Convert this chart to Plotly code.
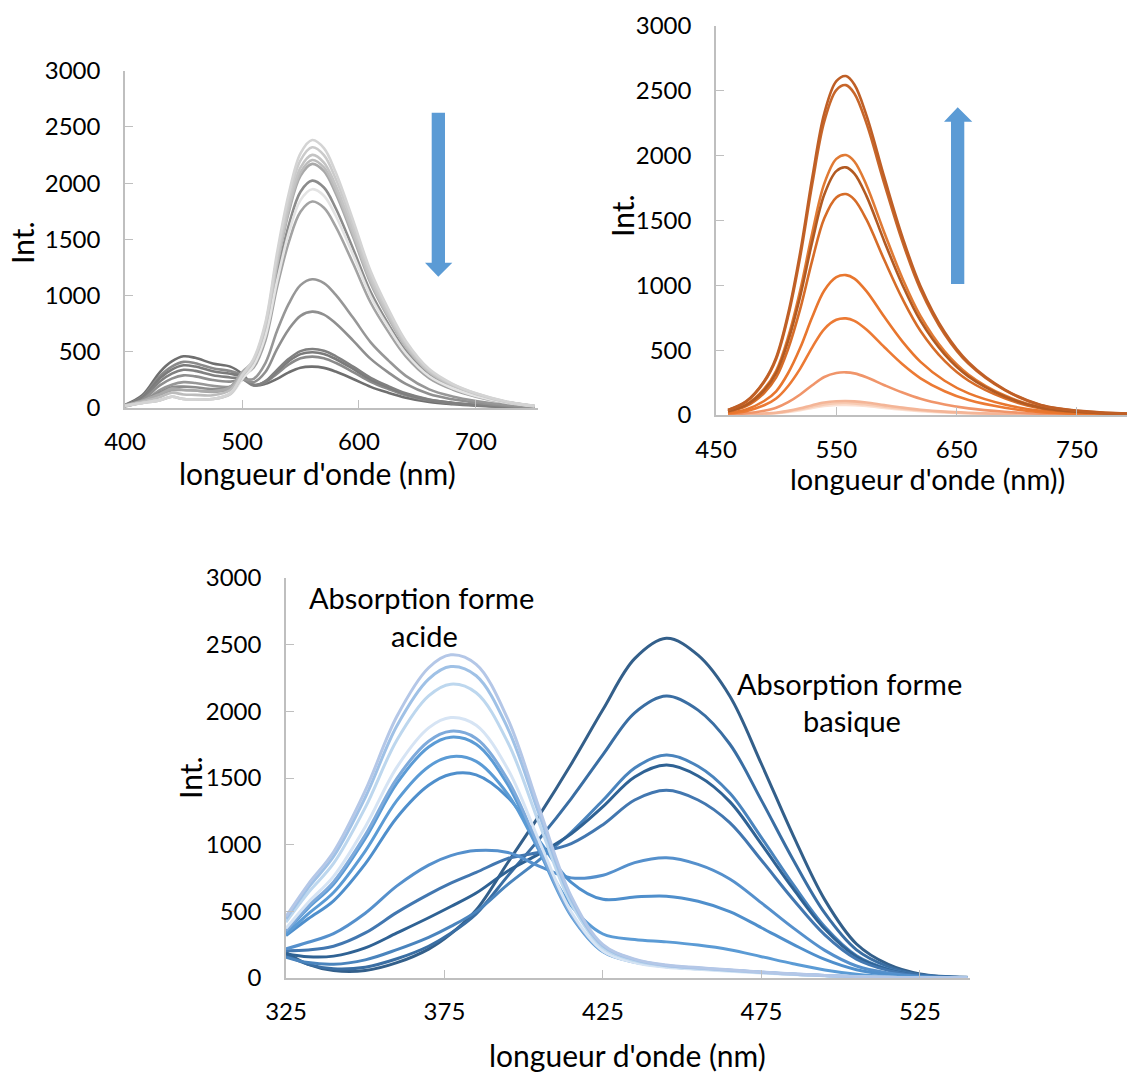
import plotly.graph_objects as go

# ---------------- DATA ----------------
# Panel 1 (top-left, grey emission spectra)
wl1 = [400, 415, 430, 440, 450, 460, 475, 490, 500, 510, 520, 530, 540, 550, 560, 570, 580, 595, 610, 625, 640, 660, 680, 700, 725, 750]
g01 = [20, 45, 70, 100, 80, 78, 80, 130, 290, 440, 760, 1383, 1907, 2265, 2384, 2312, 2098, 1669, 1216, 882, 596, 346, 215, 131, 60, 19]
g02 = [20, 45, 70, 100, 80, 78, 80, 128, 285, 430, 740, 1345, 1855, 2203, 2319, 2249, 2041, 1623, 1183, 858, 580, 336, 209, 128, 58, 19]
g03 = [20, 45, 70, 100, 80, 78, 80, 126, 280, 420, 720, 1306, 1801, 2138, 2251, 2183, 1981, 1576, 1148, 833, 563, 326, 203, 124, 56, 18]
g04 = [22, 55, 98, 136, 120, 117, 114, 160, 300, 420, 715, 1283, 1767, 2096, 2206, 2140, 1941, 1544, 1125, 816, 552, 320, 199, 121, 55, 18]
g05 = [25, 65, 126, 172, 160, 156, 149, 185, 320, 420, 700, 1267, 1741, 2064, 2171, 2106, 1910, 1520, 1107, 803, 543, 315, 195, 119, 54, 17]
g06 = [19, 61, 140, 185, 190, 185, 169, 190, 310, 400, 660, 1188, 1626, 1924, 2022, 1961, 1779, 1415, 1031, 748, 506, 293, 182, 111, 51, 16]
g07 = [20, 45, 70, 100, 80, 78, 80, 120, 255, 380, 640, 1129, 1557, 1849, 1946, 1888, 1712, 1362, 992, 720, 487, 282, 175, 107, 49, 16]
g08 = [17, 53, 119, 158, 160, 155, 143, 170, 280, 360, 600, 1077, 1475, 1746, 1836, 1781, 1616, 1285, 936, 679, 459, 266, 165, 101, 46, 15]
g09 = [14, 58, 161, 207, 230, 223, 198, 190, 250, 260, 400, 687, 928, 1093, 1145, 1111, 1008, 802, 584, 424, 286, 166, 103, 63, 29, 9]
g10 = [17, 73, 203, 261, 290, 281, 249, 235, 255, 230, 320, 526, 701, 820, 857, 831, 754, 600, 437, 317, 214, 124, 77, 47, 21, 7]
g11 = [20, 85, 238, 306, 340, 330, 292, 272, 260, 200, 240, 339, 437, 506, 525, 509, 462, 368, 268, 194, 131, 76, 47, 29, 13, 4]
g12 = [23, 95, 266, 342, 380, 369, 327, 304, 280, 205, 235, 326, 416, 479, 496, 481, 436, 347, 253, 184, 124, 72, 45, 27, 12, 4]
g13 = [25, 103, 287, 369, 410, 398, 353, 328, 290, 205, 228, 306, 387, 442, 457, 443, 402, 320, 233, 169, 114, 66, 41, 25, 11, 4]
g14 = [28, 115, 322, 414, 460, 446, 396, 368, 305, 205, 215, 259, 317, 359, 368, 357, 324, 258, 188, 136, 92, 53, 33, 20, 9, 3]

# Panel 2 (top-right, orange emission spectra)
wl2 = [460, 475, 490, 500, 510, 520, 530, 540, 550, 558, 565, 575, 590, 605, 620, 640, 660, 690, 720, 760, 800]
o01 = [39, 105, 261, 444, 784, 1255, 1830, 2326, 2575, 2614, 2549, 2313, 1830, 1372, 993, 640, 405, 196, 78, 26, 8]
o02 = [38, 102, 254, 432, 763, 1221, 1781, 2264, 2506, 2544, 2480, 2251, 1781, 1336, 967, 623, 394, 191, 76, 25, 8]
o03 = [30, 80, 201, 341, 602, 962, 1404, 1784, 1975, 2005, 1955, 1774, 1404, 1053, 762, 491, 311, 150, 60, 20, 6]
o04 = [29, 76, 191, 325, 573, 917, 1337, 1700, 1881, 1910, 1862, 1690, 1337, 1003, 726, 468, 296, 143, 57, 19, 6]
o05 = [26, 68, 170, 290, 511, 818, 1193, 1517, 1678, 1704, 1661, 1508, 1193, 895, 648, 417, 264, 128, 51, 17, 5]
o06 = [16, 43, 108, 183, 324, 518, 755, 960, 1063, 1079, 1052, 955, 755, 566, 410, 264, 167, 81, 32, 11, 3]
o07 = [11, 30, 75, 127, 224, 358, 522, 663, 734, 745, 726, 659, 522, 391, 283, 183, 115, 56, 22, 7, 2]
o08 = [5, 13, 33, 56, 99, 158, 230, 293, 324, 329, 321, 291, 230, 173, 125, 81, 51, 25, 10, 3, 1]
o09 = [2, 4, 11, 18, 32, 52, 76, 96, 106, 108, 105, 96, 76, 57, 41, 26, 17, 8, 3, 1, 0]
o10 = [1, 4, 9, 16, 28, 44, 64, 82, 91, 92, 90, 81, 64, 48, 35, 23, 14, 7, 3, 1, 0]
o11 = [1, 3, 8, 13, 23, 37, 55, 69, 77, 78, 76, 69, 55, 41, 30, 19, 12, 6, 2, 1, 0]

# Panel 3 (bottom, blue absorption spectra)
wl3 = [325, 332, 340, 350, 360, 370, 377, 385, 395, 405, 415, 425, 435, 445, 455, 465, 475, 485, 495, 505, 515, 525, 540]
a01 = [461, 703, 945, 1405, 1963, 2327, 2424, 2352, 1941, 1265, 612, 250, 142, 97, 78, 61, 45, 31, 19, 11, 5, 2, 0]
a02 = [444, 677, 911, 1354, 1892, 2242, 2336, 2267, 1871, 1219, 590, 242, 138, 94, 75, 59, 43, 30, 18, 10, 5, 2, 0]
a03 = [419, 639, 859, 1278, 1785, 2116, 2204, 2139, 1766, 1151, 557, 228, 130, 89, 72, 56, 41, 28, 17, 10, 5, 2, 0]
a04 = [372, 567, 762, 1133, 1582, 1876, 1954, 1896, 1566, 1020, 495, 203, 116, 80, 65, 51, 37, 26, 16, 9, 4, 2, 0]
a05 = [353, 537, 721, 1072, 1498, 1776, 1851, 1797, 1485, 971, 475, 201, 121, 87, 71, 58, 43, 28, 18, 9, 5, 2, 0]
a06 = [345, 524, 703, 1046, 1461, 1733, 1806, 1753, 1449, 948, 464, 196, 118, 85, 69, 57, 42, 28, 18, 9, 5, 2, 0]
a07 = [326, 481, 641, 952, 1332, 1585, 1660, 1625, 1378, 951, 542, 330, 289, 271, 247, 212, 160, 107, 60, 28, 11, 5, 0]
a08 = [318, 444, 579, 856, 1204, 1445, 1528, 1523, 1355, 1027, 718, 590, 608, 614, 575, 498, 377, 252, 139, 62, 25, 8, 1]
m01 = [218, 268, 333, 486, 691, 847, 918, 956, 941, 838, 751, 771, 865, 902, 852, 743, 563, 376, 207, 90, 37, 11, 2]
b01 = [205, 210, 238, 338, 492, 627, 711, 792, 896, 943, 1008, 1150, 1335, 1408, 1335, 1165, 883, 589, 323, 141, 57, 17, 3]
b02 = [182, 159, 164, 226, 338, 452, 536, 637, 803, 933, 1082, 1285, 1508, 1597, 1515, 1323, 1004, 670, 367, 160, 63, 19, 3]
b03 = [157, 116, 103, 136, 213, 305, 387, 498, 702, 888, 1093, 1333, 1575, 1672, 1588, 1387, 1053, 702, 384, 167, 67, 20, 3]
b04 = [169, 102, 69, 81, 144, 238, 335, 481, 766, 1045, 1346, 1675, 1989, 2115, 2009, 1755, 1332, 887, 486, 211, 85, 25, 4]
b05 = [191, 102, 56, 56, 115, 217, 331, 510, 866, 1223, 1605, 2013, 2395, 2548, 2421, 2115, 1605, 1070, 586, 255, 102, 31, 5]

y_ticks = [0, 500, 1000, 1500, 2000, 2500, 3000]
x1_ticks = [400, 500, 600, 700]
x2_ticks = [450, 550, 650, 750]
x3_ticks = [325, 375, 425, 475, 525]

# ---------------- STYLE ----------------
W, H = 1127, 1072
FONT = "Lato"
AX = "#bfbfbf"

p1 = [(g14, "#6f6f6f"), (g13, "#8a8a8a"), (g12, "#7b7b7b"), (g11, "#808080"),
      (g10, "#8f8f8f"), (g09, "#979797"), (g08, "#a3a3a3"), (g06, "#8c8c8c"),
      (g05, "#a9a9a9"), (g04, "#bcbcbc"), (g07, "#e3e3e3"), (g03, "#c4c4c4"),
      (g02, "#cbcbcb"), (g01, "#d4d4d4")]
p2 = [(o11, "#fbe0d2"), (o10, "#f8cbb3"), (o09, "#f4b597"), (o08, "#f0956a"),
      (o07, "#ec7a34"), (o06, "#e8762e"), (o05, "#d66c28"), (o03, "#e07a34"),
      (o04, "#b25a22"), (o02, "#c7662a"), (o01, "#bf5f26")]
p3 = [(b05, "#335f8a"), (b04, "#3a6ea3"), (b03, "#4a84bd"), (b02, "#2f6294"),
      (b01, "#4277b0"), (m01, "#5590cc"), (a08, "#4f8fcc"), (a07, "#5b9bd5"),
      (a06, "#5b9bd5"), (a05, "#7eaadb"), (a04, "#d6e4f4"), (a03, "#bdd7ee"),
      (a02, "#9fc1e6"), (a01, "#b4c7e7")]

fig = go.Figure()
for ys, c in p1:
    fig.add_trace(go.Scatter(x=wl1, y=ys, mode="lines", line=dict(color=c, width=2.6, shape="spline"),
                             xaxis="x", yaxis="y", showlegend=False, hoverinfo="skip"))
for ys, c in p2:
    fig.add_trace(go.Scatter(x=wl2, y=ys, mode="lines", line=dict(color=c, width=2.6, shape="spline"),
                             xaxis="x2", yaxis="y2", showlegend=False, hoverinfo="skip"))
for ys, c in p3:
    fig.add_trace(go.Scatter(x=wl3, y=ys, mode="lines", line=dict(color=c, width=3, shape="spline"),
                             xaxis="x3", yaxis="y3", showlegend=False, hoverinfo="skip"))


def px(x):
    return x / W


def py(y):
    return 1 - y / H


def xax(domain, rng, ticks, anchor, standoff=11):
    return dict(domain=domain, range=rng, tickvals=ticks, ticks="inside", ticklen=8, tickwidth=1.3,
                tickcolor=AX, showline=True, linecolor=AX, linewidth=1.5, showgrid=False,
                zeroline=False, anchor=anchor, tickfont=dict(family=FONT, size=24, color="black"),
                ticklabelstandoff=standoff, fixedrange=True, automargin=False)


def yax(domain, anchor):
    return dict(domain=domain, range=[0, 3000], tickvals=y_ticks, ticks="inside", ticklen=8, tickwidth=1.3,
                tickcolor=AX, showline=True, linecolor=AX, linewidth=1.5, showgrid=False,
                zeroline=False, anchor=anchor, tickfont=dict(family=FONT, size=24, color="black"),
                ticklabelstandoff=18, fixedrange=True, automargin=False)


fig.update_layout(
    template="none",
    width=W, height=H, margin=dict(l=0, r=0, t=0, b=0, pad=0, autoexpand=False),
    paper_bgcolor="white", plot_bgcolor="white", showlegend=False,
    xaxis=xax([px(125), px(538)], [400, 753], x1_ticks, "y"),
    yaxis=yax([py(408), py(70.7)], "x"),
    xaxis2=xax([px(716), 1.0], [450, 791.6], x2_ticks, "y2", standoff=12),
    yaxis2=yax([py(415), py(26)], "x2"),
    xaxis3=xax([px(286), px(970)], [325, 540.8], x3_ticks, "y3"),
    yaxis3=yax([py(978), py(578)], "x3"),
)

TF = dict(family=FONT, size=30, color="black")
AF = dict(family=FONT, size=29, color="black")
ann = [
    dict(x=px(22), y=py(243), text="Int.", textangle=-90, font=TF),
    dict(x=px(317), y=py(473), text="longueur d'onde (nm)", font=TF),
    dict(x=px(622), y=py(216), text="Int.", textangle=-90, font=TF),
    dict(x=px(927), y=py(479), text="longueur d'onde (nm))", font=dict(family=FONT, size=29, color="black")),
    dict(x=px(190), y=py(778), text="Int.", textangle=-90, font=TF),
    dict(x=px(627), y=py(1055), text="longueur d'onde (nm)", font=TF),
    dict(x=px(421), y=py(597), text="Absorption forme", font=AF),
    dict(x=px(424), y=py(635), text="acide", font=AF),
    dict(x=px(849), y=py(683), text="Absorption forme", font=AF),
    dict(x=px(852), y=py(720), text="basique", font=AF),
]
for a in ann:
    a.update(xref="paper", yref="paper", showarrow=False, xanchor="center", yanchor="middle")
fig.update_layout(annotations=ann)


def path(pts):
    return "M " + " L ".join(f"{px(x):.5f},{py(y):.5f}" for x, y in pts) + " Z"


down = [(431.7, 112.7), (445, 112.7), (445, 262.7), (452.3, 262.7), (438.3, 276.7),
        (425, 262.7), (431.7, 262.7)]
up = [(951, 284), (964.3, 284), (964.3, 121.7), (972.3, 121.7), (957.7, 107.3),
      (944, 121.7), (951, 121.7)]
fig.update_layout(shapes=[
    dict(type="path", xref="paper", yref="paper", path=path(down), fillcolor="#5b9bd5", line=dict(width=0)),
    dict(type="path", xref="paper", yref="paper", path=path(up), fillcolor="#5b9bd5", line=dict(width=0)),
])

fig.write_html("out.html", config={"displayModeBar": False},
               post_script="document.body.style.margin='0px';")
